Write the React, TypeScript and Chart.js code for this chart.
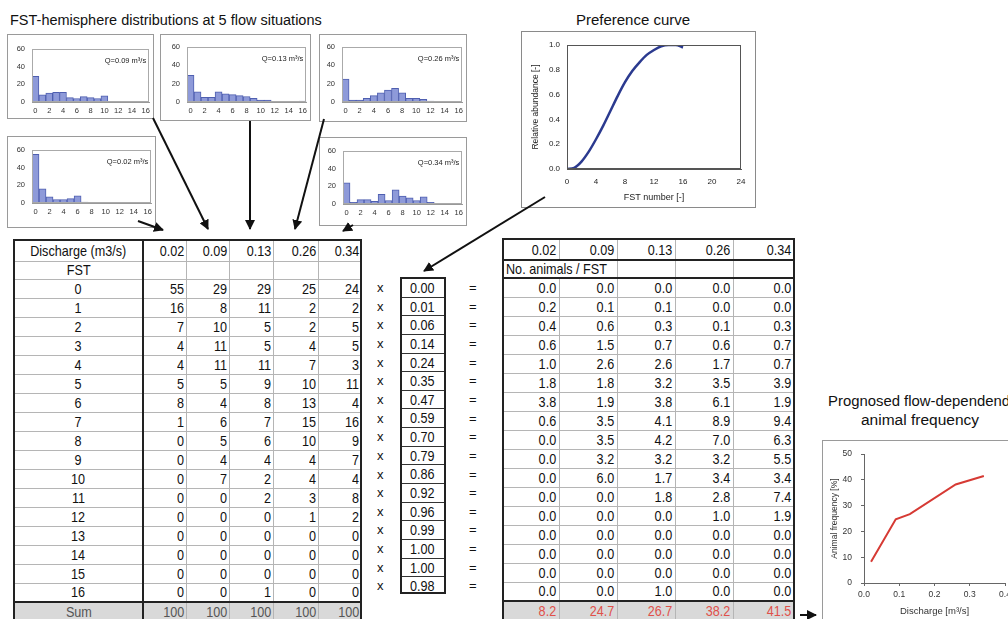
import React, { useEffect, useRef } from "react";
import { Chart, registerables } from "chart.js";
Chart.register(...registerables);

const FONT = "'Liberation Sans',Arial,sans-serif";
Chart.defaults.font.family = FONT;

// ---------- data ----------
const dischargeLabels = ["0.02", "0.09", "0.13", "0.26", "0.34"];
const dischargeValues = [0.02, 0.09, 0.13, 0.26, 0.34];
const fstClasses = ["0", "1", "2", "3", "4", "5", "6", "7", "8", "9", "10", "11", "12", "13", "14", "15", "16"];

const count002 = [55, 16, 7, 4, 4, 5, 8, 1, 0, 0, 0, 0, 0, 0, 0, 0, 0];
const count009 = [29, 8, 10, 11, 11, 5, 4, 6, 5, 4, 7, 0, 0, 0, 0, 0, 0];
const count013 = [29, 11, 5, 5, 11, 9, 8, 7, 6, 4, 2, 2, 0, 0, 0, 0, 1];
const count026 = [25, 2, 2, 4, 7, 10, 13, 15, 10, 4, 4, 3, 1, 0, 0, 0, 0];
const count034 = [24, 2, 5, 5, 3, 11, 4, 16, 9, 7, 4, 8, 2, 0, 0, 0, 0];
const countSums = [100, 100, 100, 100, 100];

const preference = [0.0, 0.01, 0.06, 0.14, 0.24, 0.35, 0.47, 0.59, 0.7, 0.79, 0.86, 0.92, 0.96, 0.99, 1.0, 1.0, 0.98];

const animals002 = [0.0, 0.2, 0.4, 0.6, 1.0, 1.8, 3.8, 0.6, 0.0, 0.0, 0.0, 0.0, 0.0, 0.0, 0.0, 0.0, 0.0];
const animals009 = [0.0, 0.1, 0.6, 1.5, 2.6, 1.8, 1.9, 3.5, 3.5, 3.2, 6.0, 0.0, 0.0, 0.0, 0.0, 0.0, 0.0];
const animals013 = [0.0, 0.1, 0.3, 0.7, 2.6, 3.2, 3.8, 4.1, 4.2, 3.2, 1.7, 1.8, 0.0, 0.0, 0.0, 0.0, 1.0];
const animals026 = [0.0, 0.0, 0.1, 0.6, 1.7, 3.5, 6.1, 8.9, 7.0, 3.2, 3.4, 2.8, 1.0, 0.0, 0.0, 0.0, 0.0];
const animals034 = [0.0, 0.0, 0.3, 0.7, 0.7, 3.9, 1.9, 9.4, 6.3, 5.5, 3.4, 7.4, 1.9, 0.0, 0.0, 0.0, 0.0];
const animalSums = [8.2, 24.7, 26.7, 38.2, 41.5];

const countColumns = [count002, count009, count013, count026, count034];
const animalColumns = [animals002, animals009, animals013, animals026, animals034];

// ---------- helpers ----------
function T({ children, origin = "right", sx = 0.87 }: { children: any; origin?: string; sx?: number }) {
  return (
    <span style={{ display: "inline-block", transform: `scaleX(${sx})`, transformOrigin: origin, whiteSpace: "nowrap" }}>{children}</span>
  );
}

const boxBorder = (color: string) => ({
  id: "boxBorder",
  afterDraw(chart: any) {
    const ctx = chart.ctx;
    ctx.save();
    ctx.strokeStyle = color;
    ctx.lineWidth = 1;
    ctx.strokeRect(0.5, 0.5, chart.width - 1, chart.height - 1);
    ctx.restore();
  },
});
const plotFrame = (color: string) => ({
  id: "plotFrame",
  afterDraw(chart: any) {
    const { ctx, chartArea: a } = chart;
    ctx.save();
    ctx.strokeStyle = color;
    ctx.lineWidth = 1;
    ctx.strokeRect(Math.round(a.left) + 0.5, Math.round(a.top) + 0.5, Math.round(a.width) - 1, Math.round(a.height) - 1);
    ctx.restore();
  },
});
const qLabel = (text: string) => ({
  id: "qLabel",
  afterDraw(chart: any) {
    const { ctx, chartArea: a } = chart;
    ctx.save();
    ctx.font = "7.5px " + FONT;
    ctx.fillStyle = "#222";
    ctx.textAlign = "right";
    ctx.textBaseline = "middle";
    ctx.fillText(text, a.right - 3, a.top + 12);
    ctx.restore();
  },
});

type Box = { left: number; top: number; width: number; height: number };
type Inset = { l: number; t: number; r: number; b: number };

function ChartBox({ box, make }: { box: Box; make: () => any }) {
  const ref = useRef<HTMLCanvasElement>(null);
  useEffect(() => {
    const chart = new Chart(ref.current as HTMLCanvasElement, make());
    return () => chart.destroy();
  }, []);
  return (
    <div style={{ position: "absolute", left: box.left, top: box.top, width: box.width, height: box.height }}>
      <canvas ref={ref} />
    </div>
  );
}

function histConfig(counts: number[], q: string, inset: Inset) {
  const yw = 20;
  const xh = 14;
  return {
    type: "bar",
    data: {
      labels: fstClasses,
      datasets: [
        {
          data: counts,
          backgroundColor: "#8e9ad9",
          borderColor: "#4f5fb0",
          borderWidth: 1,
          categoryPercentage: 1,
          barPercentage: 1,
        },
      ],
    },
    options: {
      animation: false,
      responsive: true,
      maintainAspectRatio: false,
      layout: { padding: { left: inset.l - yw, top: inset.t, right: inset.r, bottom: inset.b - xh } },
      plugins: { legend: { display: false }, tooltip: { enabled: false } },
      scales: {
        x: {
          grid: { display: false, drawTicks: false },
          border: { color: "#999" },
          ticks: {
            font: { size: 7.5 },
            color: "#333",
            autoSkip: false,
            maxRotation: 0,
            padding: 4,
            callback: (_v: any, i: number) => (i % 2 === 0 ? fstClasses[i] : ""),
          },
          afterFit: (s: any) => {
            s.height = xh;
          },
        },
        y: {
          min: 0,
          max: 60,
          grid: { display: false, drawTicks: false },
          border: { color: "#999" },
          ticks: { stepSize: 20, font: { size: 7.5 }, color: "#333", padding: 7 },
          afterFit: (s: any) => {
            s.width = yw;
          },
        },
      },
    },
    plugins: [boxBorder("#9a9a9a"), plotFrame("#aaa"), qLabel(q)],
  };
}

function prefConfig() {
  return {
    type: "line",
    data: {
      datasets: [
        {
          data: preference.map((p, i) => ({ x: Number(fstClasses[i]), y: p })),
          borderColor: "#2b3a8f",
          borderWidth: 2.5,
          pointRadius: 0,
          cubicInterpolationMode: "monotone",
          fill: false,
        },
      ],
    },
    options: {
      animation: false,
      responsive: true,
      maintainAspectRatio: false,
      layout: { padding: { left: 6, top: 14, right: 15, bottom: 5 } },
      plugins: { legend: { display: false }, tooltip: { enabled: false } },
      scales: {
        x: {
          type: "linear",
          min: 0,
          max: 24,
          grid: { display: false, drawTicks: false },
          border: { color: "#555" },
          ticks: { stepSize: 4, font: { size: 8 }, color: "#222", padding: 8 },
          title: { display: true, text: "FST number [-]", font: { size: 9 }, color: "#222", padding: { top: 3, bottom: 0 } },
          afterFit: (s: any) => {
            s.height = 34;
          },
        },
        y: {
          min: 0,
          max: 1,
          grid: { display: false, drawTicks: false },
          border: { color: "#555" },
          ticks: { stepSize: 0.2, font: { size: 8 }, color: "#222", padding: 7, callback: (v: any) => Number(v).toFixed(1) },
          title: { display: true, text: "Relative abundance [-]", font: { size: 8.5 }, color: "#222", padding: { top: 4, bottom: 0 } },
          afterFit: (s: any) => {
            s.width = 40;
          },
        },
      },
    },
    plugins: [boxBorder("#8a8a8a"), plotFrame("#555")],
  };
}

function freqConfig() {
  return {
    type: "line",
    data: {
      datasets: [
        {
          data: animalSums.map((v, i) => ({ x: dischargeValues[i], y: v })),
          borderColor: "#d63a34",
          borderWidth: 2,
          pointRadius: 0,
          tension: 0,
          fill: false,
        },
      ],
    },
    options: {
      animation: false,
      responsive: true,
      maintainAspectRatio: false,
      layout: { padding: { left: 0, top: 11, right: 37, bottom: 8 } },
      plugins: { legend: { display: false }, tooltip: { enabled: false } },
      scales: {
        x: {
          type: "linear",
          min: 0,
          max: 0.4,
          grid: { drawOnChartArea: false, drawTicks: true, tickLength: 3, color: "#666" },
          border: { color: "#666" },
          ticks: { stepSize: 0.1, font: { size: 8.5 }, color: "#333", padding: 4, callback: (v: any) => Number(v).toFixed(1) },
          title: { display: true, text: "Discharge [m\u00b3/s]", font: { size: 9.5 }, color: "#333", padding: { top: 2, bottom: 0 } },
          afterFit: (s: any) => {
            s.height = 34;
          },
        },
        y: {
          min: 0,
          max: 50,
          grid: { drawOnChartArea: false, drawTicks: true, tickLength: 3, color: "#666" },
          border: { color: "#666" },
          ticks: { stepSize: 10, font: { size: 8.5 }, color: "#333", padding: 9 },
          title: { display: true, text: "Animal frequency [%]", font: { size: 8.5 }, color: "#333", padding: { top: 8, bottom: 0 } },
          afterFit: (s: any) => {
            s.width = 42;
          },
        },
      },
    },
    plugins: [boxBorder("#9a9a9a")],
  };
}

// ---------- tables ----------
const LEFT_COLS = [129, 43, 43, 44, 45, 43];
const RIGHT_COLS = [56, 58, 58, 58, 61];
const ROW_H = 19;

const cellBase: React.CSSProperties = {
  padding: 0,
  fontSize: 14.5,
  lineHeight: "16px",
  whiteSpace: "nowrap",
  overflow: "visible",
  verticalAlign: "middle",
};

function LeftTable() {
  const thin = "1px solid #b5b5b5";
  const thick = "2px solid #222";
  const num = (i: number, last: boolean): React.CSSProperties => ({
    ...cellBase,
    textAlign: "right",
    paddingRight: 1,
    borderLeft: i === 0 ? thick : thin,
    borderRight: last ? thick : thin,
    borderTop: thin,
    borderBottom: thin,
  });
  const lab: React.CSSProperties = { ...cellBase, textAlign: "center", borderLeft: thick, borderRight: thick, borderTop: thin, borderBottom: thin };
  return (
    <table
      style={{
        position: "absolute",
        left: 13,
        top: 239,
        borderCollapse: "collapse",
        tableLayout: "fixed",
        width: LEFT_COLS.reduce((a, b) => a + b, 0),
        border: thick,
        fontFamily: FONT,
        color: "#111",
      }}
    >
      <colgroup>
        {LEFT_COLS.map((w, i) => (
          <col key={i} style={{ width: w }} />
        ))}
      </colgroup>
      <tbody>
        <tr style={{ height: 21 }}>
          <td style={{ ...lab, borderTop: thick }}>
            <T origin="center">Discharge (m3/s)</T>
          </td>
          {dischargeLabels.map((d, i) => (
            <td key={i} style={{ ...num(i, i === 4), borderTop: thick }}>
              <T>{d}</T>
            </td>
          ))}
        </tr>
        <tr style={{ height: 18 }}>
          <td style={lab}>
            <T origin="center">FST</T>
          </td>
          {dischargeLabels.map((_d, i) => (
            <td key={i} style={num(i, i === 4)}></td>
          ))}
        </tr>
        {fstClasses.map((f, r) => (
          <tr key={f} style={{ height: ROW_H }}>
            <td style={lab}>
              <T origin="center">{f}</T>
            </td>
            {countColumns.map((col, i) => (
              <td key={i} style={num(i, i === 4)}>
                <T>{col[r]}</T>
              </td>
            ))}
          </tr>
        ))}
        <tr style={{ height: ROW_H, background: "#d9d9d9", color: "#555" }}>
          <td style={{ ...lab, borderTop: thick }}>
            <T origin="center">Sum</T>
          </td>
          {countSums.map((s, i) => (
            <td key={i} style={{ ...num(i, i === 4), borderTop: thick }}>
              <T>{s}</T>
            </td>
          ))}
        </tr>
      </tbody>
    </table>
  );
}

function RightTable() {
  const thin = "1px solid #b5b5b5";
  const thick = "2px solid #222";
  const num = (i: number): React.CSSProperties => ({
    ...cellBase,
    textAlign: "right",
    paddingRight: 2,
    borderLeft: i === 0 ? thick : thin,
    borderRight: i === 4 ? thick : thin,
    borderTop: thin,
    borderBottom: thin,
  });
  return (
    <table
      style={{
        position: "absolute",
        left: 502,
        top: 238,
        borderCollapse: "collapse",
        tableLayout: "fixed",
        width: RIGHT_COLS.reduce((a, b) => a + b, 0),
        border: thick,
        fontFamily: FONT,
        color: "#111",
      }}
    >
      <colgroup>
        {RIGHT_COLS.map((w, i) => (
          <col key={i} style={{ width: w }} />
        ))}
      </colgroup>
      <tbody>
        <tr style={{ height: 21 }}>
          {dischargeLabels.map((d, i) => (
            <td key={i} style={{ ...num(i), borderTop: thick, borderBottom: thick }}>
              <T>{d}</T>
            </td>
          ))}
        </tr>
        <tr style={{ height: 18 }}>
          <td colSpan={2} style={{ ...num(0), textAlign: "left", paddingLeft: 2, borderBottom: thick }}>
            <T origin="left">No. animals / FST</T>
          </td>
          {[2, 3, 4].map((i) => (
            <td key={i} style={{ ...num(i), borderBottom: thick }}></td>
          ))}
        </tr>
        {fstClasses.map((f, r) => (
          <tr key={f} style={{ height: ROW_H }}>
            {animalColumns.map((col, i) => (
              <td key={i} style={num(i)}>
                <T>{col[r].toFixed(1)}</T>
              </td>
            ))}
          </tr>
        ))}
        <tr style={{ height: ROW_H, background: "#d9d9d9", color: "#e0504a" }}>
          {animalSums.map((s, i) => (
            <td key={i} style={{ ...num(i), borderTop: thick }}>
              <T>{s.toFixed(1)}</T>
            </td>
          ))}
        </tr>
      </tbody>
    </table>
  );
}

function Multipliers() {
  const top = 277;
  const rh = 18.65;
  return (
    <>
      <div
        style={{
          position: "absolute",
          left: 400,
          top,
          width: 46,
          height: rh * 17,
          border: "2px solid #222",
          boxSizing: "border-box",
          fontFamily: FONT,
        }}
      >
        {preference.map((p, i) => (
          <div
            key={i}
            style={{
              height: rh,
              boxSizing: "border-box",
              borderBottom: i < 16 ? "1px solid #333" : "none",
              fontSize: 14.5,
              lineHeight: rh + "px",
              paddingLeft: 8,
              color: "#111",
            }}
          >
            <T origin="left">{p.toFixed(2)}</T>
          </div>
        ))}
      </div>
      {preference.map((_p, i) => (
        <React.Fragment key={i}>
          <div style={{ position: "absolute", left: 377, top: top + 2 + i * rh, height: rh, lineHeight: rh + "px", fontSize: 13, fontFamily: FONT, color: "#111" }}>x</div>
          <div style={{ position: "absolute", left: 469, top: top + 2 + i * rh, height: rh, lineHeight: rh + "px", fontSize: 13, fontFamily: FONT, color: "#111" }}>=</div>
        </React.Fragment>
      ))}
    </>
  );
}

function Arrows() {
  const lines: [number, number, number, number][] = [
    [153, 118, 208, 229],
    [250, 121, 250, 229],
    [324, 119, 295, 229],
    [138, 221, 163, 230],
    [353, 225, 343, 231],
    [545, 197, 424, 271],
    [800, 615, 816, 615],
  ];
  return (
    <svg width={1008} height={619} style={{ position: "absolute", left: 0, top: 0, pointerEvents: "none" }}>
      <defs>
        <marker id="ah" viewBox="0 0 10 10" refX="9" refY="5" markerWidth="5" markerHeight="5" orient="auto-start-reverse">
          <path d="M0,0 L10,5 L0,10 z" fill="#111" />
        </marker>
      </defs>
      {lines.map((l, i) => (
        <line key={i} x1={l[0]} y1={l[1]} x2={l[2]} y2={l[3]} stroke="#111" strokeWidth={2} markerEnd="url(#ah)" />
      ))}
    </svg>
  );
}

const HISTS: { col: number; box: Box; inset: Inset }[] = [
  { col: 1, box: { left: 7, top: 34, width: 147, height: 85 }, inset: { l: 25, t: 15, r: 3, b: 17 } },
  { col: 2, box: { left: 160, top: 34, width: 151, height: 87 }, inset: { l: 27, t: 13, r: 3, b: 19 } },
  { col: 3, box: { left: 319, top: 34, width: 148, height: 88 }, inset: { l: 23, t: 13, r: 3, b: 20 } },
  { col: 0, box: { left: 7, top: 136, width: 149, height: 92 }, inset: { l: 25, t: 14, r: 3, b: 25 } },
  { col: 4, box: { left: 319, top: 137, width: 148, height: 89 }, inset: { l: 24, t: 14, r: 2, b: 22 } },
];

export default function App() {
  return (
    <div
      style={{
        position: "absolute",
        left: 0,
        top: 0,
        width: 1008,
        height: 619,
        overflow: "hidden",
        background: "#fff",
        fontFamily: FONT,
        color: "#111",
      }}
    >
      <div style={{ position: "absolute", left: 10, top: 11, fontSize: 15.5, lineHeight: "18px", whiteSpace: "nowrap" }}>
        <T origin="left" sx={0.935}>FST-hemisphere distributions at 5 flow situations</T>
      </div>
      <div style={{ position: "absolute", left: 533, width: 200, textAlign: "center", top: 11, fontSize: 15, lineHeight: "18px" }}>
        Preference curve
      </div>
      <div style={{ position: "absolute", left: 828, top: 391, fontSize: 15.5, lineHeight: "19px", whiteSpace: "nowrap" }}>
        <T origin="left" sx={0.96}>Prognosed flow-dependend</T>
      </div>
      <div style={{ position: "absolute", left: 820, width: 200, textAlign: "center", top: 410, fontSize: 15.5, lineHeight: "19px" }}>
        animal frequency
      </div>

      {HISTS.map((h, i) => (
        <ChartBox
          key={i}
          box={h.box}
          make={() => histConfig(countColumns[h.col], "Q=" + dischargeLabels[h.col] + " m\u00b3/s", h.inset)}
        />
      ))}

      <ChartBox box={{ left: 521, top: 31, width: 235, height: 177 }} make={prefConfig} />
      <ChartBox box={{ left: 822, top: 440, width: 220, height: 185 }} make={freqConfig} />

      <LeftTable />
      <Multipliers />
      <RightTable />
      <Arrows />
    </div>
  );
}
